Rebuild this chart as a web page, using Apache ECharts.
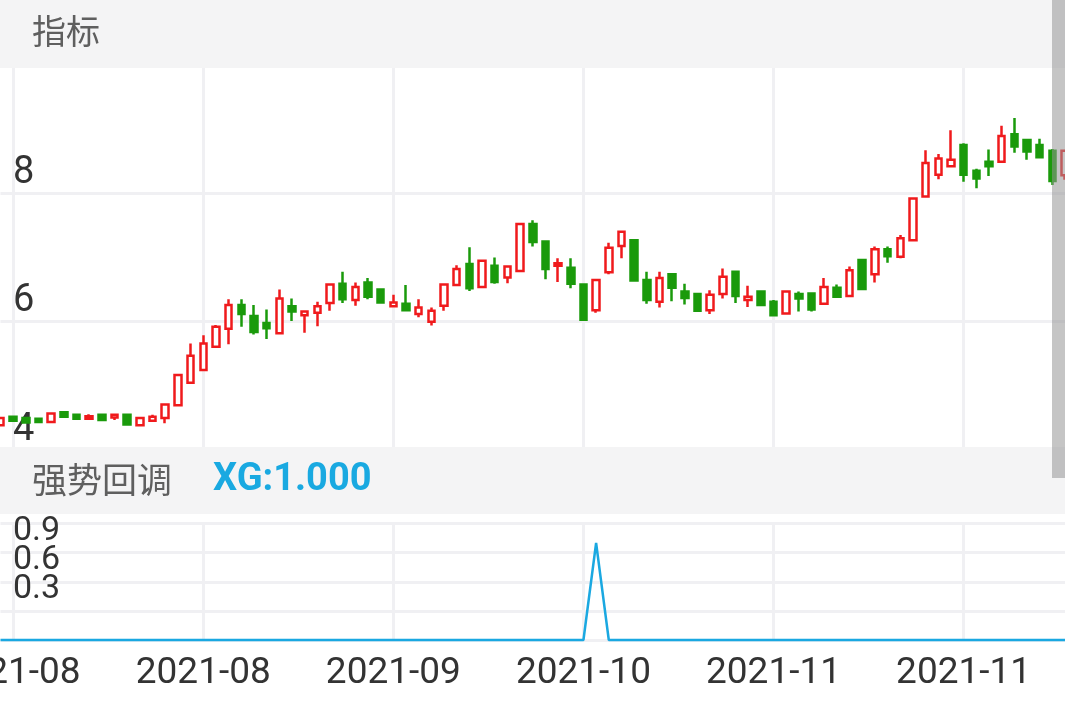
<!DOCTYPE html>
<html>
<head>
<meta charset="utf-8">
<script src="https://cdn.jsdelivr.net/npm/echarts@6/dist/echarts.min.js"></script>
<style>
html,body{margin:0;padding:0;background:#ffffff;}
#chart{width:1065px;height:708px;}
</style>
</head>
<body>
<div id="chart"></div>
<script>
const dates = [
  '2021-07-30',
  '2021-08-02','2021-08-03','2021-08-04','2021-08-05','2021-08-06',
  '2021-08-09','2021-08-10','2021-08-11','2021-08-12','2021-08-13',
  '2021-08-16','2021-08-17','2021-08-18','2021-08-19','2021-08-20',
  '2021-08-23','2021-08-24','2021-08-25','2021-08-26','2021-08-27',
  '2021-08-30','2021-08-31','2021-09-01','2021-09-02','2021-09-03',
  '2021-09-06','2021-09-07','2021-09-08','2021-09-09','2021-09-10',
  '2021-09-13','2021-09-14','2021-09-15','2021-09-16','2021-09-17',
  '2021-09-22','2021-09-23','2021-09-24',
  '2021-09-27','2021-09-28','2021-09-29','2021-09-30',
  '2021-10-08',
  '2021-10-11','2021-10-12','2021-10-13','2021-10-14','2021-10-15',
  '2021-10-18','2021-10-19','2021-10-20','2021-10-21','2021-10-22',
  '2021-10-25','2021-10-26','2021-10-27','2021-10-28','2021-10-29',
  '2021-11-01','2021-11-02','2021-11-03','2021-11-04','2021-11-05',
  '2021-11-08','2021-11-09','2021-11-10','2021-11-11','2021-11-12',
  '2021-11-15','2021-11-16','2021-11-17','2021-11-18','2021-11-19',
  '2021-11-22','2021-11-23','2021-11-24','2021-11-25','2021-11-26',
  '2021-11-29','2021-11-30','2021-12-01','2021-12-02','2021-12-03',
  '2021-12-06'
];

const open = [
  4.39, 4.52, 4.50, 4.49, 4.44, 4.59, 4.55, 4.49, 4.55, 4.51,
  4.55, 4.39, 4.46, 4.50, 4.70, 5.05, 5.25, 5.61, 5.89, 6.26,
  6.09, 5.98, 5.82, 6.24, 6.10, 6.14, 6.29, 6.59, 6.34, 6.61,
  6.50, 6.24, 6.28, 6.12, 6.00, 6.25, 6.57, 6.90, 6.54, 6.87,
  6.69, 6.79, 7.52, 7.25, 6.87, 6.84, 6.58, 6.18, 6.77, 7.18,
  7.27, 6.65, 6.31, 6.74, 6.47, 6.43, 6.18, 6.43, 6.78, 6.34,
  6.47, 6.31, 6.13, 6.43, 6.44, 6.28, 6.53, 6.40, 6.96, 6.74,
  7.13, 7.01, 7.27, 7.95, 8.29, 8.42, 8.75, 8.35, 8.49, 8.49,
  8.92, 8.83, 8.75, 8.66, 8.28
];
const close = [
  4.50, 4.46, 4.43, 4.44, 4.57, 4.52, 4.49, 4.53, 4.47, 4.55,
  4.40, 4.50, 4.52, 4.71, 5.17, 5.47, 5.66, 5.92, 6.26, 6.12,
  5.84, 5.90, 6.36, 6.16, 6.16, 6.24, 6.58, 6.35, 6.54, 6.39,
  6.30, 6.30, 6.18, 6.22, 6.17, 6.58, 6.82, 6.52, 6.95, 6.62,
  6.86, 7.52, 7.24, 6.82, 6.91, 6.59, 6.03, 6.65, 7.15, 7.40,
  6.64, 6.34, 6.68, 6.53, 6.37, 6.17, 6.42, 6.70, 6.40, 6.39,
  6.26, 6.10, 6.47, 6.36, 6.19, 6.54, 6.39, 6.80, 6.51, 7.13,
  7.02, 7.30, 7.92, 8.47, 8.54, 8.52, 8.29, 8.23, 8.42, 8.89,
  8.73, 8.65, 8.56, 8.19, 8.66
];
const low = [
  4.38, 4.44, 4.42, 4.44, 4.42, 4.51, 4.48, 4.48, 4.47, 4.47,
  4.40, 4.39, 4.46, 4.42, 4.69, 5.04, 5.24, 5.60, 5.65, 5.92,
  5.80, 5.73, 5.81, 6.01, 5.83, 5.93, 6.17, 6.29, 6.25, 6.35,
  6.29, 6.22, 6.17, 6.07, 5.94, 6.17, 6.56, 6.48, 6.53, 6.59,
  6.60, 6.78, 7.17, 6.66, 6.62, 6.52, 6.01, 6.14, 6.74, 6.99,
  6.63, 6.28, 6.22, 6.32, 6.27, 6.16, 6.12, 6.36, 6.29, 6.23,
  6.25, 6.09, 6.12, 6.16, 6.16, 6.27, 6.37, 6.39, 6.50, 6.61,
  6.92, 6.99, 7.26, 7.94, 8.22, 8.41, 8.18, 8.08, 8.27, 8.48,
  8.63, 8.52, 8.55, 8.13, 8.21
];
const high = [
  4.52, 4.54, 4.51, 4.49, 4.58, 4.60, 4.56, 4.56, 4.55, 4.55,
  4.55, 4.52, 4.55, 4.72, 5.18, 5.66, 5.79, 5.95, 6.35, 6.35,
  6.26, 6.19, 6.50, 6.36, 6.16, 6.31, 6.59, 6.78, 6.61, 6.68,
  6.51, 6.42, 6.57, 6.35, 6.22, 6.59, 6.88, 7.16, 6.96, 7.00,
  6.87, 7.53, 7.58, 7.25, 6.99, 6.99, 6.58, 6.66, 7.23, 7.41,
  7.28, 6.78, 6.78, 6.75, 6.59, 6.44, 6.49, 6.83, 6.79, 6.56,
  6.48, 6.34, 6.49, 6.47, 6.45, 6.68, 6.58, 6.86, 6.97, 7.17,
  7.17, 7.35, 7.93, 8.67, 8.61, 8.98, 8.78, 8.38, 8.68, 9.05,
  9.17, 8.84, 8.85, 8.69, 8.67
];
const xg = [
  0,0,0,0,0,0,0,0,0,0,
  0,0,0,0,0,0,0,0,0,0,
  0,0,0,0,0,0,0,0,0,0,
  0,0,0,0,0,0,0,0,0,0,
  0,0,0,0,0,0,0,1,0,0,
  0,0,0,0,0,0,0,0,0,0,
  0,0,0,0,0,0,0,0,0,0,
  0,0,0,0,0,0,0,0,0,0,
  0,0,0,0,0
];
const priceTickLabels = [4, 6, 8];
const xgTickLabels = ['0.3', '0.6', '0.9'];
const labelEvery = 15;
const labelStart = 1;

const RED = '#f01a1c';
const GREEN = '#1a9a0b';
const GRID_LINE = '#f0f0f3';
const numFont = 'Roboto, "Noto Sans", sans-serif';
const cjkFont = '"Noto Sans CJK SC", "Noto Sans", sans-serif';

const candleData = open.map((o, i) => [o, close[i], low[i], high[i]]);
const showIdx = (idx) => idx % labelEvery === labelStart;

const chart = echarts.init(document.getElementById('chart'), null, {renderer: 'canvas'});
chart.setOption({
  animation: false,
  backgroundColor: '#ffffff',
  grid: [
    {left: 0.5, right: 0, top: 64.8, height: 385.4, containLabel: false, outerBoundsMode: 'none'},
    {left: 0.5, right: 0, top: 523.6, height: 116.4, containLabel: false, outerBoundsMode: 'none'}
  ],
  xAxis: [
    {
      type: 'category', gridIndex: 0, data: dates, boundaryGap: false,
      axisLine: {show: false}, axisTick: {show: false}, axisLabel: {show: false},
      splitLine: {show: true, interval: showIdx, lineStyle: {color: GRID_LINE, width: 3}}
    },
    {
      type: 'category', gridIndex: 1, data: dates, boundaryGap: false,
      axisLine: {show: false}, axisTick: {show: false},
      axisLabel: {
        interval: showIdx, formatter: (v) => v.slice(0, 7),
        color: '#333333', fontSize: 37, fontFamily: numFont, margin: 15
      },
      splitLine: {show: true, interval: showIdx, lineStyle: {color: GRID_LINE, width: 3}}
    }
  ],
  yAxis: [
    {
      type: 'value', gridIndex: 0, min: 4, max: 10, interval: 2,
      axisLine: {show: false}, axisTick: {show: false},
      splitLine: {show: true, lineStyle: {color: GRID_LINE, width: 3}},
      axisLabel: {
        inside: true, margin: 12.5, color: '#333333', fontSize: 38, fontFamily: numFont,
        verticalAlign: 'bottom', padding: [0, 0, 1, 0],
        formatter: (v) => priceTickLabels.indexOf(v) >= 0 ? String(v) : ''
      }
    },
    {
      type: 'value', gridIndex: 1, min: 0, max: 1.2, interval: 0.3,
      axisLine: {show: false}, axisTick: {show: false},
      splitLine: {show: true, lineStyle: {color: GRID_LINE, width: 3}},
      axisLabel: {
        inside: true, margin: 12.5, color: '#333333', fontSize: 34, fontFamily: numFont,
        verticalAlign: 'bottom', padding: [0, 0, 4, 0],
        formatter: (v) => { const s = v.toFixed(1); return xgTickLabels.indexOf(s) >= 0 ? s : ''; }
      }
    }
  ],
  series: [
    {
      type: 'candlestick', xAxisIndex: 0, yAxisIndex: 0,
      data: candleData, barWidth: 7, clip: false,
      itemStyle: {color: '#ffffff', color0: GREEN, borderColor: RED, borderColor0: GREEN, borderWidth: 2.5}
    },
    {
      type: 'line', xAxisIndex: 1, yAxisIndex: 1, data: xg,
      symbol: 'none', clip: false,
      lineStyle: {color: '#1aa8e1', width: 2.5}
    }
  ],
  graphic: [
    {type: 'rect', z: 100, shape: {x: 0, y: 0, width: 1065, height: 68}, style: {fill: '#f4f4f5'}},
    {type: 'text', z: 101, x: 32, y: 31, style: {text: '指标', fontSize: 34, fontFamily: cjkFont, fill: '#5f5f5f', verticalAlign: 'middle'}},
    {type: 'rect', z: 100, shape: {x: 0, y: 447, width: 1065, height: 67}, style: {fill: '#f4f4f5'}},
    {type: 'text', z: 101, x: 32, y: 480, style: {text: '强势回调', fontSize: 35, fontFamily: cjkFont, fill: '#5f5f5f', verticalAlign: 'middle'}},
    {type: 'text', z: 101, x: 213, y: 480, style: {text: 'XG:1.000', fontSize: 38, fontWeight: 'bold', fontFamily: numFont, fill: '#19a9e1', verticalAlign: 'middle'}},
    {type: 'rect', z: 110, shape: {x: 1052, y: 0, width: 13, height: 478}, style: {fill: 'rgba(150,150,150,0.55)'}}
  ]
});
</script>
</body>
</html>
